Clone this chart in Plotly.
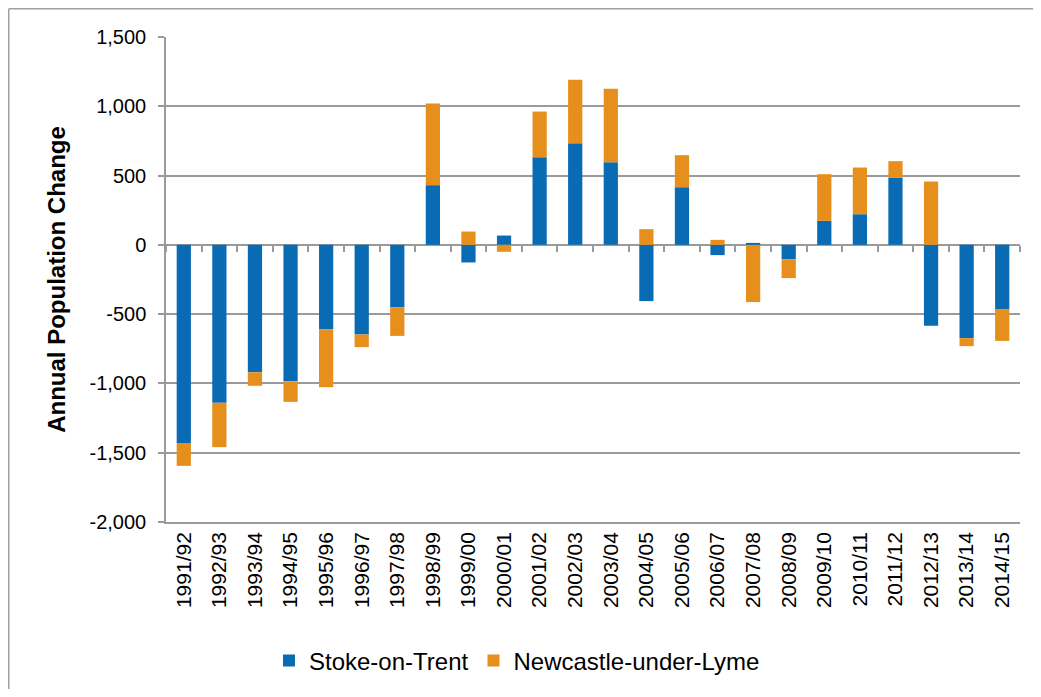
import plotly.graph_objects as go

categories = ["1991/92", "1992/93", "1993/94", "1994/95", "1995/96", "1996/97",
              "1997/98", "1998/99", "1999/00", "2000/01", "2001/02", "2002/03",
              "2003/04", "2004/05", "2005/06", "2006/07", "2007/08", "2008/09",
              "2009/10", "2010/11", "2011/12", "2012/13", "2013/14", "2014/15"]
stoke = [-1430, -1140, -920, -985, -608, -647, -450, 431, -127, 67, 632, 733,
         596, -406, 416, -74, 14, -103, 173, 221, 483, -584, -673, -466]
newcastle = [-165, -320, -97, -148, -419, -91, -207, 589, 96, -50, 330, 458,
             530, 113, 231, 36, -413, -137, 337, 337, 121, 457, -58, -227]
y_tickvals = [-2000, -1500, -1000, -500, 0, 500, 1000, 1500]
y_ticktext = ["-2,000", "-1,500", "-1,000", "-500", "0", "500", "1,000", "1,500"]

BLUE = "#0A6BB5"
ORANGE = "#E68F1C"
GRID = "#9a9a9a"
FONT = "Liberation Sans, Arial, sans-serif"

fig = go.Figure()
fig.add_trace(go.Bar(x=categories, y=stoke, name="Stoke-on-Trent",
                     marker=dict(color=BLUE, line=dict(width=0))))
fig.add_trace(go.Bar(x=categories, y=newcastle, name="Newcastle-under-Lyme",
                     marker=dict(color=ORANGE, line=dict(width=0))))
# helper axis for the tick marks along the zero line
fig.add_trace(go.Scatter(x=categories, y=[None] * len(categories), xaxis="x2",
                         mode="markers", showlegend=False, hoverinfo="skip"))

# the page body has an 8px margin; figure sized to fit the window
OFF = 8
W, H = 1041 - 2 * OFF, 697 - 2 * OFF
L, T = 166 - OFF, 37 - OFF
R = W - (1020 - OFF)
B = H - (522 - OFF)
pw, ph = W - L - R, H - T - B

def px_x(p):
    return (p - OFF - L) / pw

def px_y(p):
    return (H - B - (p - OFF)) / ph

border = dict(color="#a0a0a0", width=1.5)

fig.update_layout(
    width=W, height=H,
    margin=dict(l=L, r=R, t=T, b=B, autoexpand=False),
    paper_bgcolor="white", plot_bgcolor="white",
    barmode="relative", bargap=0.6,
    font=dict(family=FONT, size=20, color="black"),
    showlegend=True,
    legend=dict(orientation="h", x=px_x(269), xanchor="left",
                y=px_y(661), yanchor="middle",
                font=dict(size=24), bgcolor="rgba(0,0,0,0)"),
    xaxis=dict(type="category", range=[-0.5, len(categories) - 0.5],
               tickangle=-90, ticks="", showgrid=False,
               showline=True, linecolor=GRID, linewidth=1.5,
               tickfont=dict(size=21), zeroline=False),
    xaxis2=dict(type="category", overlaying="x", matches="x", anchor="free",
                position=2000 / 3500, side="bottom", ticks="outside",
                tickson="boundaries", ticklen=6, tickwidth=1.5, tickcolor=GRID,
                showticklabels=False, showgrid=False, showline=False,
                zeroline=False),
    yaxis=dict(range=[-2000, 1500], tickvals=y_tickvals, ticktext=y_ticktext,
               showgrid=True, gridcolor=GRID, gridwidth=1.5,
               zeroline=True, zerolinecolor=GRID, zerolinewidth=1.5,
               showline=True, linecolor=GRID, linewidth=1.5,
               ticks="outside", ticklen=6, tickwidth=1.5, tickcolor=GRID,
               ticklabelstandoff=8,
               tickfont=dict(size=20),
               title=dict(text="<b>Annual Population Change</b>",
                          font=dict(size=24), standoff=17)),
    shapes=[
        dict(type="line", xref="paper", yref="paper",
             x0=px_x(8.75), x1=px_x(8.75), y0=px_y(697), y1=px_y(8.75),
             line=border, layer="below"),
        dict(type="line", xref="paper", yref="paper",
             x0=px_x(8.75), x1=px_x(1041), y0=px_y(8.75), y1=px_y(8.75),
             line=border, layer="below"),
    ],
)

fig.write_html("out.html")
